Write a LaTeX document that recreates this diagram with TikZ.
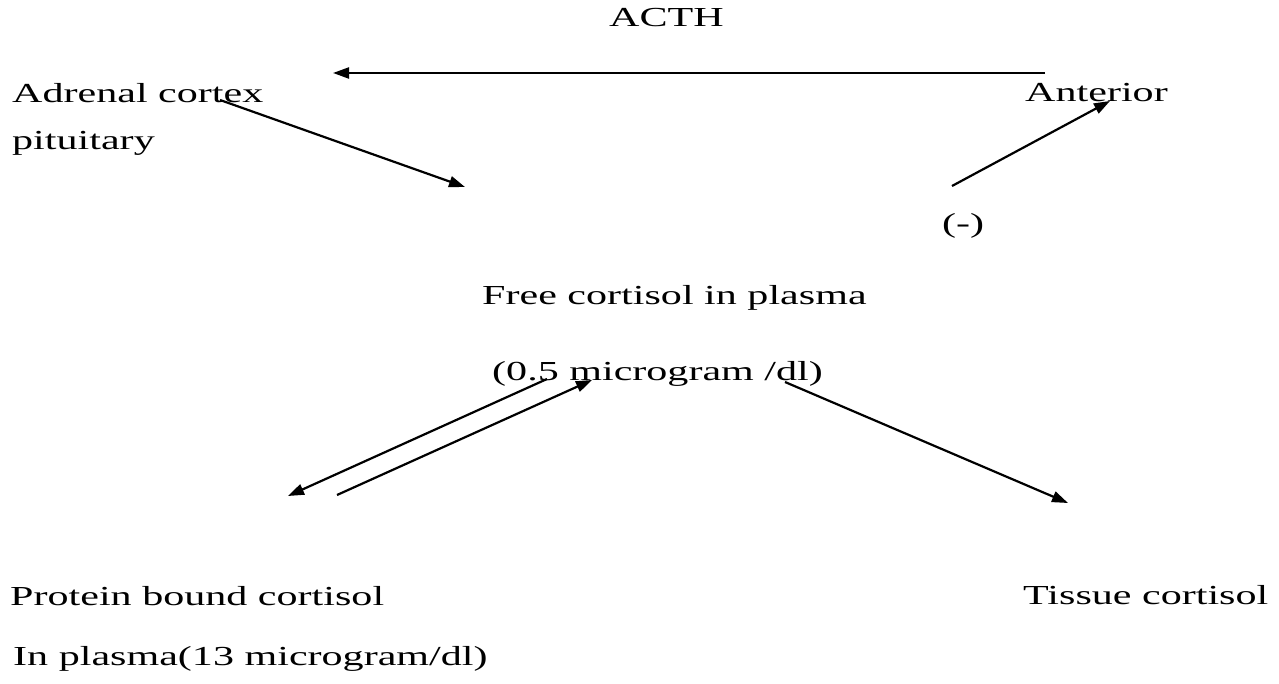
\documentclass[tikz,border=0pt]{standalone}
\usepackage{fontspec}
\setmainfont{Liberation Serif}[FakeStretch=1.53]
\usetikzlibrary{arrows.meta}
\begin{document}
\begin{tikzpicture}[x=1pt,y=-1pt,
  lbl/.style={anchor=base west,inner sep=0pt,font=\fontsize{27.5}{32}\selectfont},
  conn/.style={line width=2.2pt,-{Triangle[length=16pt,width=11pt]}}]
\useasboundingbox (0,0) rectangle (1279,684);
\node[lbl] (acth) at (609,27) {ACTH};
\node[lbl] (adrenal) at (12,103) {Adrenal cortex};
\node[lbl] (pit) at (12,150) {pituitary};
\node[lbl] (ant) at (1025,102) {Anterior};
\node[lbl] (neg) at (942,233) {(-)};
\node[lbl] (free) at (482,305) {Free cortisol in plasma};
\node[lbl] (freeconc) at (492,380) {(0.5 microgram /dl)};
\node[lbl] (prot) at (10,605) {Protein bound cortisol};
\node[lbl] (protconc) at (13,665) {In plasma(13 microgram/dl)};
\node[lbl] (tissue) at (1023,604) {Tissue cortisol};
% arrow end points
\coordinate (a1s) at (1045,73);
\coordinate (a1e) at (333,73);
\coordinate (a2s) at (220,100);
\coordinate (a2e) at (465,187);
\coordinate (a3s) at (952,186);
\coordinate (a3e) at (1110,101);
\coordinate (a4s) at (547,379);
\coordinate (a4e) at (288,496);
\coordinate (a5s) at (337,495);
\coordinate (a5e) at (592,380);
\coordinate (a6s) at (785,382);
\coordinate (a6e) at (1068,503);
\draw[conn] (a1s) -- (a1e);
\draw[conn] (a2s) -- (a2e);
\draw[conn] (a3s) -- (a3e);
\draw[conn] (a4s) -- (a4e);
\draw[conn] (a5s) -- (a5e);
\draw[conn] (a6s) -- (a6e);
\end{tikzpicture}
\end{document}
